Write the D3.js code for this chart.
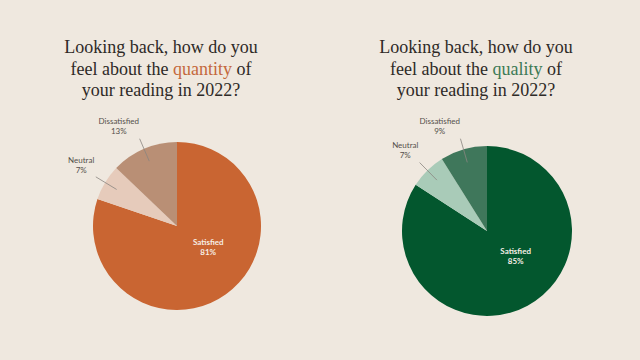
<!DOCTYPE html>
<html>
<head>
<meta charset="utf-8">
<script src="https://cdn.jsdelivr.net/npm/d3@7"></script>
<style>
  body { margin: 0; background: #efe8df; }
  svg { display: block; }
</style>
</head>
<body>
<div id="graf"></div>
<script>
// datos
const categories = ['Satisfied', 'Neutral', 'Dissatisfied']
const quantityValues = [81, 7, 13]
const qualityValues = [85, 7, 9]
const quantityColors = ['#c96532', '#e6cbbb', '#b98f75']
const qualityColors = ['#03572e', '#a9cbb8', '#3f775b']
const titleBefore = ['Looking back, how do you', 'feel about the ']
const titleAfter = [' of', 'your reading in 2022?']

const ancho = 640, alto = 360

const svg = d3.select('#graf').append('svg')
  .attr('width', ancho)
  .attr('height', alto)

svg.append('rect')
  .attr('width', ancho).attr('height', alto)
  .attr('fill', '#efe8df')

const charts = [
  { word: 'quantity', wordColor: '#c4683c', values: quantityValues, colors: quantityColors, cx: 177, cy: 226, r: 84, tx: 161 },
  { word: 'quality', wordColor: '#3d7a55', values: qualityValues, colors: qualityColors, cx: 487, cy: 231, r: 85, tx: 476 }
]

const pie = d3.pie().sort(null).value(d => d.value)

charts.forEach(c => {
  // titulo
  const title = svg.append('text')
    .attr('x', c.tx)
    .attr('y', 53)
    .attr('text-anchor', 'middle')
    .style('font-family', '"Liberation Serif", "DejaVu Serif", serif')
    .style('font-size', '18px')
    .attr('fill', '#2e2a27')

  title.append('tspan').attr('x', c.tx).attr('dy', 0).text(titleBefore[0])
  const l2 = title.append('tspan').attr('x', c.tx).attr('dy', 21.5)
  l2.append('tspan').text(titleBefore[1])
  l2.append('tspan').attr('fill', c.wordColor).text(c.word)
  l2.append('tspan').text(titleAfter[0])
  title.append('tspan').attr('x', c.tx).attr('dy', 21.5).text(titleAfter[1])

  const datos = categories.map((k, i) => ({ key: k, value: c.values[i], color: c.colors[i] }))
  const arcs = pie(datos)

  const g = svg.append('g')
    .attr('transform', `translate(${c.cx}, ${c.cy})`)

  const arc = d3.arc().innerRadius(0).outerRadius(c.r)

  g.selectAll('path')
    .data(arcs)
    .join('path')
    .attr('d', arc)
    .attr('fill', d => d.data.color)

  const pt = (d, k, off = 0) => {
    const a = (d.startAngle + d.endAngle) / 2 + off
    return [Math.sin(a) * c.r * k, -Math.cos(a) * c.r * k]
  }

  arcs.forEach((d, i) => {
    if (i === 0) {
      // etiqueta interior
      const p = pt(d, 0.45, -0.35)
      const t = g.append('text')
        .attr('text-anchor', 'middle')
        .style('font-family', 'Lato, "Open Sans", sans-serif')
        .style('font-size', '8px')
        .style('font-weight', 'bold')
        .attr('fill', '#f6eee6')
      t.append('tspan').attr('x', p[0]).attr('y', p[1] - 2).text(d.data.key)
      t.append('tspan').attr('x', p[0]).attr('y', p[1] + 8).text(d.data.value + '%')
    } else {
      const p0 = pt(d, 1.13), p1 = pt(d, 0.84)
      g.append('line')
        .attr('x1', p0[0]).attr('y1', p0[1])
        .attr('x2', p1[0]).attr('y2', p1[1])
        .attr('stroke', '#8a8580')
        .attr('stroke-width', 0.8)
      const p = pt(d, 1.15)
      const t = g.append('text')
        .attr('text-anchor', 'middle')
        .style('font-family', 'Lato, "Open Sans", sans-serif')
        .style('font-size', '8px')
        .attr('fill', '#55504b')
      t.append('tspan').attr('x', p[0] - 19).attr('y', p[1] - 13).text(d.data.key)
      t.append('tspan').attr('x', p[0] - 19).attr('y', p[1] - 3).text(d.data.value + '%')
      // ajustar el centro segun el ancho
      const w = t.node().getBBox().width
      t.selectAll('tspan').attr('x', p[0] - w / 2)
    }
  })
})
</script>
</body>
</html>
